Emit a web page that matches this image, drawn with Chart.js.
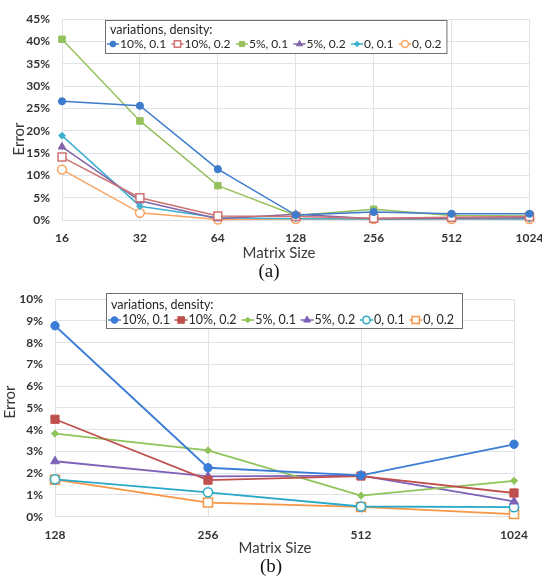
<!DOCTYPE html>
<html><head><meta charset="utf-8">
<script src="https://cdn.jsdelivr.net/npm/chart.js@4/dist/chart.umd.min.js"></script>
<style>
html,body{margin:0;padding:0;background:#fff;width:542px;height:578px;overflow:hidden;position:relative;}
.wrap{position:absolute;left:0;width:542px;}
#wrapA{top:0;height:258px;}
#wrapB{top:280px;height:282px;}
.lbl{position:absolute;font-family:Lato,'Open Sans',sans-serif;font-size:15px;color:#3a3a3a;white-space:nowrap;transform:translate(-50%,-50%);}
.rot{transform:translate(-50%,-50%) rotate(-90deg);}
.cap{position:absolute;font-family:'Liberation Serif','DejaVu Serif',serif;font-size:19px;color:#111;transform:translate(-50%,-50%);white-space:nowrap;}
</style></head><body>
<div class="wrap" id="wrapA"><canvas id="cA" width="542" height="258"></canvas></div>
<div class="wrap" id="wrapB"><canvas id="cB" width="542" height="282"></canvas></div>
<div class="lbl rot" style="left:18px;top:139px;">Error</div>
<div class="lbl" style="left:279px;top:252px;">Matrix Size</div>
<div class="cap" style="left:269px;top:271px;">(a)</div>
<div class="lbl rot" style="left:9px;top:402px;">Error</div>
<div class="lbl" style="left:275px;top:547px;">Matrix Size</div>
<div class="cap" style="left:271px;top:566px;">(b)</div>
<script>
// ---------- data ----------
const seriesNames = ['10%, 0.1','10%, 0.2','5%, 0.1','5%, 0.2','0, 0.1','0, 0.2'];
const legendTitle = 'variations, density:';

// chart (a)
const sizesA = ['16','32','64','128','256','512','1024'];
const errA_v10_d01 = [26.6, 25.6, 11.4, 1.1, 1.8, 1.4, 1.4];
const errA_v10_d02 = [14.1, 5.0, 0.9, 0.8, 0.4, 0.6, 0.8];
const errA_v5_d01  = [40.5, 22.2, 7.7, 1.0, 2.4, 1.0, 0.9];
const errA_v5_d02  = [16.4, 4.3, 0.3, 1.3, 0.3, 0.4, 0.5];
const errA_v0_d01  = [18.9, 3.1, 0.5, 0.3, 0.2, 0.3, 0.2];
const errA_v0_d02  = [11.3, 1.6, 0.1, 0.2, 0.2, 0.2, 0.2];
const yMaxA = 45, yStepA = 5;

// chart (b)
const sizesB = ['128','256','512','1024'];
const errB_v10_d01 = [8.78, 2.25, 1.90, 3.33];
const errB_v10_d02 = [4.48, 1.68, 1.87, 1.09];
const errB_v5_d01  = [3.82, 3.05, 0.97, 1.65];
const errB_v5_d02  = [2.55, 1.85, 1.89, 0.70];
const errB_v0_d01  = [1.72, 1.12, 0.47, 0.44];
const errB_v0_d02  = [1.70, 0.65, 0.45, 0.12];
const yMaxB = 10, yStepB = 1;

// ---------- styles ----------
const GRID = '#dfe3e8';
const TICK = '#333333';
const FONT = "Lato, 'Open Sans', sans-serif";

const stylesA = [
  {color:'#3d7ccc', fill:'#3d7ccc', style:'circle',   r:3.6, bw:1},
  {color:'#cd7270', fill:'#ffffff', style:'rect',     r:5.6, bw:1.5},
  {color:'#96c05c', fill:'#96c05c', style:'rect',     r:4.6, bw:1},
  {color:'#8064a8', fill:'#8064a8', style:'triangle', r:4.4, bw:1},
  {color:'#3fb0d0', fill:'#3fb0d0', style:'rectRot',  r:3.4, bw:1},
  {color:'#f9a462', fill:'#ffffff', style:'circle',   r:4.4, bw:1.5}
];
const stylesB = [
  {color:'#3b7dd6', fill:'#3b7dd6', style:'circle',   r:4.2, bw:1},
  {color:'#c0504d', fill:'#c0504d', style:'rect',     r:5.8, bw:1},
  {color:'#8fc45a', fill:'#8fc45a', style:'rectRot',  r:3.6, bw:1},
  {color:'#7d62b8', fill:'#7d62b8', style:'triangle', r:5.0, bw:1},
  {color:'#2aa8c8', fill:'#ffffff', style:'circle',   r:4.6, bw:1.5},
  {color:'#f79646', fill:'#ffffff', style:'rect',     r:6.4, bw:1.5}
];

function drawMarker(ctx, style, x, y, r, fill, stroke, lw){
  ctx.beginPath();
  if(style==='circle'){ ctx.arc(x,y,r,0,Math.PI*2); }
  else if(style==='rect'){ const s=r*Math.SQRT1_2; ctx.rect(x-s,y-s,2*s,2*s); }
  else if(style==='rectRot'){ ctx.moveTo(x-r,y); ctx.lineTo(x,y-r); ctx.lineTo(x+r,y); ctx.lineTo(x,y+r); ctx.closePath(); }
  else if(style==='triangle'){ ctx.moveTo(x,y-r); ctx.lineTo(x+0.866*r,y+0.5*r); ctx.lineTo(x-0.866*r,y+0.5*r); ctx.closePath(); }
  ctx.fillStyle=fill; ctx.fill();
  ctx.lineWidth=lw; ctx.strokeStyle=stroke; ctx.stroke();
}

const boxLegend = {
  id:'boxLegend',
  afterDraw(chart, args, o){
    const ctx = chart.ctx;
    ctx.save();
    ctx.font = o.fontSize + 'px ' + FONT;
    ctx.textBaseline = 'middle';
    ctx.textAlign = 'left';
    let x = o.itemX;
    const pos = [];
    chart.data.datasets.forEach(ds=>{
      const w = ctx.measureText(ds.label).width;
      pos.push({x, w});
      x += o.markW + 1 + w + o.gap;
    });
    const right = x - o.gap + o.padR;
    ctx.fillStyle = '#ffffff';
    ctx.fillRect(o.x, o.y, right - o.x, o.h);
    ctx.strokeStyle = '#6f6f6f';
    ctx.lineWidth = 1;
    ctx.strokeRect(o.x+0.5, o.y+0.5, right - o.x, o.h);
    ctx.fillStyle = '#262626';
    ctx.font = o.titleSize + 'px ' + FONT;
    ctx.fillText(o.title, o.x + 5, o.titleY);
    ctx.font = o.fontSize + 'px ' + FONT;
    chart.data.datasets.forEach((ds,i)=>{
      const p = pos[i];
      ctx.beginPath();
      ctx.moveTo(p.x, o.itemY); ctx.lineTo(p.x + o.markW, o.itemY);
      ctx.strokeStyle = ds.borderColor; ctx.lineWidth = 1.5; ctx.stroke();
      drawMarker(ctx, ds.pointStyle, p.x + o.markW/2, o.itemY, ds.pointRadius*0.8, ds.pointBackgroundColor, ds.pointBorderColor, ds.pointBorderWidth);
      ctx.fillStyle = '#262626';
      ctx.fillText(ds.label, p.x + o.markW + 1, o.itemY);
    });
    ctx.restore();
  }
};

function makeChart(id, labels, seriesData, styles, yMax, yStep, area, legendOpts, lw){
  const canvas = document.getElementById(id);
  const H = canvas.height;
  return new Chart(canvas, {
    type:'line',
    data:{
      labels: labels,
      datasets: seriesData.map((d,i)=>({
        label: seriesNames[i], data: d,
        borderColor: styles[i].color, backgroundColor: styles[i].fill,
        pointStyle: styles[i].style, pointRadius: styles[i].r, pointHoverRadius: styles[i].r,
        pointBackgroundColor: styles[i].fill, pointBorderColor: styles[i].color,
        pointBorderWidth: styles[i].bw, borderWidth: lw, tension: 0, fill: false, clip: false
      }))
    },
    options:{
      responsive:false, animation:false, devicePixelRatio:1,
      layout:{padding:{left:0, top:area.top, right:542-area.right, bottom:0}},
      plugins:{legend:{display:false}, tooltip:{enabled:false}, boxLegend: legendOpts},
      scales:{
        x:{
          type:'category', offset:false,
          grid:{color:GRID, drawTicks:false, lineWidth:1},
          border:{color:GRID},
          ticks:{padding:11, color:TICK, font:{family:FONT, size:12, weight:'bold'}, maxRotation:0, autoSkip:false},
          afterFit(s){ s.height = H - area.bottom; s.paddingLeft = 0; s.paddingRight = 0; }
        },
        y:{
          min:0, max:yMax,
          grid:{color:GRID, drawTicks:false, lineWidth:1},
          border:{color:GRID},
          ticks:{stepSize:yStep, padding:12, color:TICK, font:{family:FONT, size:12, weight:'bold'}, callback:v=>v+'%'},
          afterFit(s){ s.width = area.left; }
        }
      }
    },
    plugins:[boxLegend]
  });
}

makeChart('cA', sizesA,
  [errA_v10_d01, errA_v10_d02, errA_v5_d01, errA_v5_d02, errA_v0_d01, errA_v0_d02],
  stylesA, yMaxA, yStepA,
  {left:62, top:10.7, right:529.5, bottom:220},
  {x:105, y:20, h:33, title:legendTitle, titleY:30, itemY:44, itemX:107, markW:12, gap:5.4, padR:5, fontSize:12, titleSize:12.5},
  1.5);

makeChart('cB', sizesB,
  [errB_v10_d01, errB_v10_d02, errB_v5_d01, errB_v5_d02, errB_v0_d01, errB_v0_d02],
  stylesB, yMaxB, yStepB,
  {left:55, top:7.3, right:514, bottom:236.7},
  {x:106, y:13, h:35, title:legendTitle, titleY:25, itemY:40, itemX:108, markW:13, gap:4.6, padR:8, fontSize:12.5, titleSize:12.5},
  1.8);
</script>
</body></html>
